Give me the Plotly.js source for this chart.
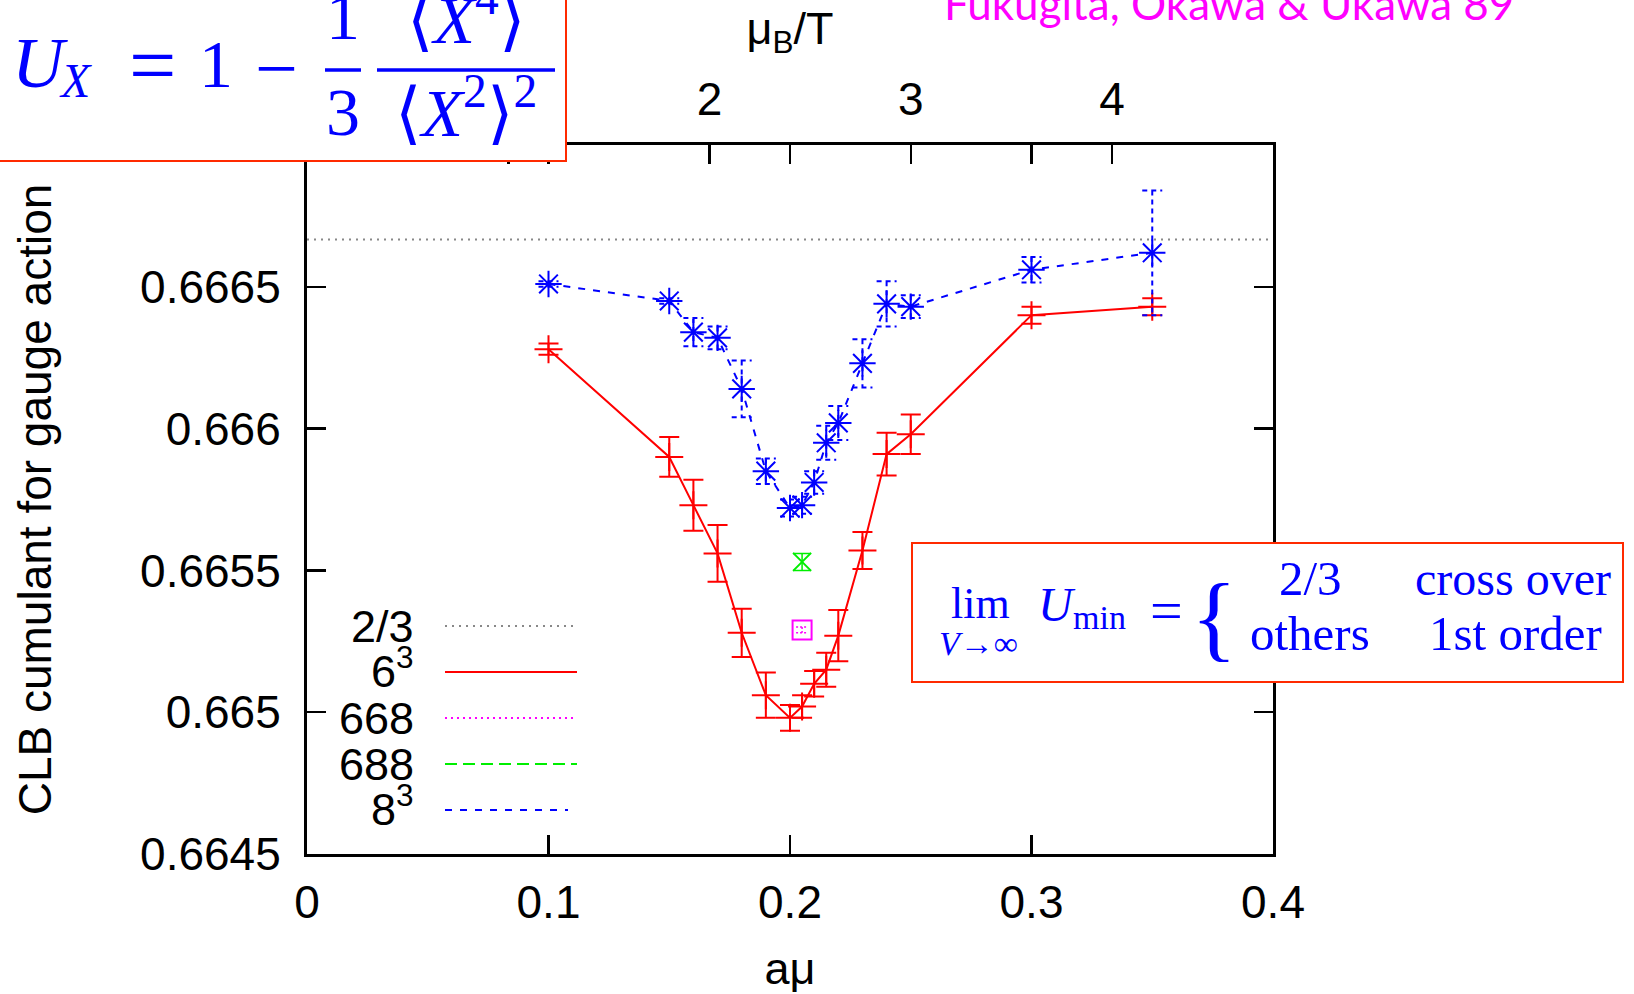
<!DOCTYPE html>
<html>
<head>
<meta charset="utf-8">
<script src="https://cdn.plot.ly/plotly-3.0.1.min.js"></script>
<style>
  html, body { margin: 0; padding: 0; background: #ffffff; }
  #chart { width: 1634px; height: 994px; }
</style>
</head>
<body>
<div id="chart"></div>
<script>
// ---------------- data ----------------
const amu = [0.1, 0.15, 0.16, 0.17, 0.18, 0.19, 0.2, 0.205, 0.21, 0.215, 0.22, 0.23, 0.24, 0.25, 0.3, 0.35];

const u6 = [0.66628, 0.66590, 0.66573, 0.66556, 0.66528, 0.66506, 0.66498, 0.66502, 0.66510, 0.66515, 0.66527, 0.66557, 0.66591, 0.66598, 0.66640, 0.66643];
const u6err = [0.00002, 0.00007, 0.00009, 0.00010, 0.000085, 0.00008, 0.000045, 0.00004, 0.000045, 0.00006, 0.00009, 0.000065, 0.000075, 0.00007, 0.00003, 0.00003];

const u8 = [0.66651, 0.66645, 0.66634, 0.66632, 0.66614, 0.66585, 0.66572, 0.66573, 0.66581, 0.66595, 0.66602, 0.66623, 0.66644, 0.66643, 0.66656, 0.66662];
const u8err = [0.00001, 0.00001, 0.00005, 0.00004, 0.00010, 0.000045, 0.00003, 0.00003, 0.00004, 0.00006, 0.00006, 0.000085, 0.00008, 0.00004, 0.000045, 0.00022];

const amu668 = [0.205];
const u668 = [0.66529];
const u668err = [0.00001];

const amu688 = [0.205];
const u688 = [0.66553];
const u688err = [0.00003];

const refLevel = 2 / 3;
const xRange = [0, 0.4];
const yRange = [0.6645, 0.667];

const xTickVals = [0, 0.1, 0.2, 0.3, 0.4];
const xTickText = ["0", "0.1", "0.2", "0.3", "0.4"];
const yTickVals = [0.6645, 0.665, 0.6655, 0.666, 0.6665];
const yTickText = ["0.6645", "0.665", "0.6655", "0.666", "0.6665"];
const muTickVals = [1, 2, 3, 4];
const muTickText = ["", "2", "3", "4"];
const muPerAmu = 12;   // muB/T = 12 a mu  (Nt = 4)

const legendNames = ["2/3", "6<sup>3</sup>", "668", "688", "8<sup>3</sup>"];

// ---------------- geometry / styles ----------------
const W = 1634, H = 994, ML = 307, MR = 361, MT = 145, MB = 140;
const PW = W - ML - MR, PH = H - MT - MB;
const px = v => (v - ML) / PW;
const py = v => (H - MB - v) / PH;

const SANS = "Liberation Sans, Arial, Helvetica, sans-serif";
const SERIF = "Liberation Serif, 'DejaVu Serif', 'Times New Roman', serif";
const BLUE = "#0000ff", RED = "#ff0000", GREEN = "#00ee00", MAG = "#ff00ff", GRAY = "#888888";
const BOXRED = "#ff2a00";

const styles = [
  {color: GRAY, dash: "2px,5px", width: 2},
  {color: RED, dash: "solid", width: 2},
  {color: MAG, dash: "2px,4px", width: 2},
  {color: GREEN, dash: "12px,6px", width: 2},
  {color: BLUE, dash: "7px,8px", width: 2}
];

const traces = [
  {x: xRange, y: [refLevel, refLevel], mode: "lines", name: legendNames[0],
   line: {color: styles[0].color, dash: styles[0].dash, width: styles[0].width}, hoverinfo: "skip"},
  {x: amu, y: u6, mode: "lines+markers", name: legendNames[1],
   line: {color: styles[1].color, width: styles[1].width},
   marker: {symbol: "cross-thin-open", size: 20, color: RED, line: {color: RED, width: 2}},
   error_y: {type: "data", array: u6err, visible: true, color: RED, thickness: 2, width: 10}},
  {x: amu668, y: u668, mode: "markers", name: legendNames[2],
   marker: {symbol: "square-open", size: 19, color: MAG, line: {color: MAG, width: 2}},
   error_y: {type: "data", array: u668err, visible: true, color: MAG, thickness: 1.5, width: 6}},
  {x: amu688, y: u688, mode: "markers", name: legendNames[3],
   marker: {symbol: "x-thin-open", size: 18, color: GREEN, line: {color: GREEN, width: 2}},
   error_y: {type: "data", array: u688err, visible: true, color: GREEN, thickness: 1.5, width: 9}},
  {x: amu, y: u8, mode: "lines+markers", name: legendNames[4],
   line: {color: styles[4].color, dash: styles[4].dash, width: styles[4].width},
   marker: {symbol: "asterisk-open", size: 22, color: BLUE, line: {color: BLUE, width: 2}},
   error_y: {type: "data", array: u8err, visible: true, color: BLUE, thickness: 2, width: 10}},
  // carries the top (muB/T) axis
  {x: [], y: [], xaxis: "x2", yaxis: "y", mode: "markers", showlegend: false, hoverinfo: "skip"}
];

// ---------------- annotations ----------------
function ann(text, x, y, size, opts) {
  opts = opts || {};
  return Object.assign({
    xref: "paper", yref: "paper", x: px(x), y: py(y), text: text, showarrow: false,
    xanchor: "center", yanchor: "middle",
    font: {family: opts.family || SERIF, size: size, color: opts.color || BLUE}
  }, opts.extra || {});
}

const annotations = [];
// top-left formula
annotations.push(ann("<i>U</i>", 10, 63, 72, {extra: {xanchor: "left"}}));
annotations.push(ann("<i>X</i>", 57, 81, 48, {extra: {xanchor: "left"}}));
annotations.push(ann("=", 152, 66, 84));
annotations.push(ann("1", 216, 64, 68));
annotations.push(ann("\u2212", 276, 68, 76));
annotations.push(ann("1", 343, 16, 68));
annotations.push(ann("3", 343, 112, 68));
annotations.push(ann("\u27e8<i>X</i><sup>4</sup>\u27e9", 466, 15, 68));
annotations.push(ann("\u27e8<i>X</i><sup>2</sup>\u27e9<sup>2</sup>", 466, 108, 68));
// citation
annotations.push(ann("Fukugita, Okawa &amp; Ukawa 89", 942, 3, 44,
  {family: "Lato, 'Open Sans', sans-serif", color: MAG, extra: {xanchor: "left"}}));
// right box formula
annotations.push(ann("lim", 980, 603, 44));
annotations.push(ann("<i>V</i>\u2192\u221e", 978, 643, 34));
annotations.push(ann("<i>U</i>", 1036, 604, 48, {extra: {xanchor: "left"}}));
annotations.push(ann("min", 1071, 617, 34, {extra: {xanchor: "left"}}));
annotations.push(ann("=", 1166, 610, 58));
annotations.push(ann("{", 1214, 616, 96));
annotations.push(ann("2/3", 1310, 578, 49));
annotations.push(ann("others", 1310, 633, 49));
annotations.push(ann("cross over", 1513, 578, 48));
annotations.push(ann("1st order", 1515, 633, 49));
// legend labels
const legY = [626, 672, 718, 764, 810];
const legLineEnd = [577, 577, 577, 577, 568];
for (let i = 0; i < legendNames.length; i++) {
  annotations.push(ann(legendNames[i], 416, legY[i] - (i === 1 || i === 4 ? 4 : 0), 45,
    {family: SANS, color: "#000000", extra: {xanchor: "right"}}));
}

// ---------------- shapes ----------------
const shapes = [
  // formula box (covers the top axis on the left)
  {type: "rect", xref: "paper", yref: "paper", x0: px(-10), x1: px(566), y0: py(-10), y1: py(161),
   fillcolor: "#ffffff", line: {color: BOXRED, width: 2}, layer: "above"},
  {type: "line", xref: "paper", yref: "paper", x0: px(325), x1: px(361), y0: py(70), y1: py(70),
   line: {color: BLUE, width: 3.5}, layer: "above"},
  {type: "line", xref: "paper", yref: "paper", x0: px(377), x1: px(555), y0: py(70), y1: py(70),
   line: {color: BLUE, width: 3.5}, layer: "above"},
  // right box
  {type: "rect", xref: "paper", yref: "paper", x0: px(912), x1: px(1623), y0: py(543), y1: py(682),
   fillcolor: "#ffffff", line: {color: BOXRED, width: 2}, layer: "above"}
];
for (let i = 0; i < legendNames.length; i++) {
  shapes.push({type: "line", xref: "paper", yref: "paper", x0: px(445), x1: px(legLineEnd[i]),
    y0: py(legY[i]), y1: py(legY[i]),
    line: {color: styles[i].color, dash: styles[i].dash, width: styles[i].width}, layer: "above"});
}

const axisCommon = {
  ticks: "inside", ticklen: 19, tickwidth: 2.5, tickcolor: "#000000",
  showgrid: false, zeroline: false, tickfont: {family: SANS, size: 46, color: "#000000"}
};

const layout = {
  width: W, height: H,
  margin: {l: ML, r: MR, t: MT, b: MB, pad: 0},
  paper_bgcolor: "#ffffff", plot_bgcolor: "#ffffff",
  font: {family: SANS, size: 45, color: "#000000"},
  showlegend: false,
  xaxis: Object.assign({}, axisCommon, {
    range: xRange, tickmode: "array", tickvals: xTickVals, ticktext: xTickText,
    showline: true, linewidth: 3, linecolor: "#000000", mirror: "ticks",
    ticklabelstandoff: 6,
    title: {text: "a\u03bc", font: {family: SANS, size: 45}, standoff: 40}
  }),
  xaxis2: Object.assign({}, axisCommon, {
    overlaying: "x", side: "top", anchor: "y",
    range: [xRange[0] * muPerAmu, xRange[1] * muPerAmu],
    tickmode: "array", tickvals: muTickVals, ticktext: muTickText,
    showline: false, ticklabelstandoff: 20,
    title: {text: "\u03bc<sub>B</sub>/T", font: {family: SANS, size: 45}, standoff: 14}
  }),
  yaxis: Object.assign({}, axisCommon, {
    range: yRange, tickmode: "array", tickvals: yTickVals, ticktext: yTickText,
    showline: true, linewidth: 3, linecolor: "#000000", mirror: "ticks",
    ticklabelstandoff: 14,
    title: {text: "CLB cumulant for gauge action", font: {family: SANS, size: 46}, standoff: 74}
  }),
  annotations: annotations,
  shapes: shapes
};

Plotly.newPlot("chart", traces, layout, {staticPlot: true}).then(function (gd) {
  const tr = gd.querySelectorAll("g.scatterlayer g.trace");
  if (tr[4]) tr[4].querySelectorAll("path.yerror").forEach(p => p.style.strokeDasharray = "5px,4px");
  if (tr[2]) tr[2].querySelectorAll("path.yerror").forEach(p => p.style.strokeDasharray = "2px,2px");
});
</script>
</body>
</html>
